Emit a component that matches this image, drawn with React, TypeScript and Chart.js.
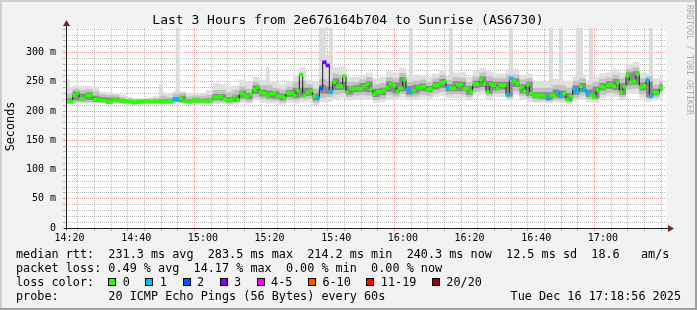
import React, { useEffect, useRef } from 'react';
import { Chart, registerables } from 'chart.js';

Chart.register(...registerables);

const W = 697;
const H = 310;
const START_MIN = 18 + 56 / 60; // 14:18:56, minutes after 14:00
const SPAN_MIN = 180;
const Y_MAX = 342;

// median rtt per minute (ms)
const medianRtt = [
  216.5, 216.5, 227, 231, 221, 221, 227, 227, 219.4, 219.4,
  218.3, 218.3, 215.4, 215.4, 219.4, 218, 218, 216.5, 216.5, 216.5,
  214.2, 216.5, 216.5, 217, 217, 216.5, 217, 217, 217, 216.5,
  216.5, 216.5, 219.4, 219.4, 222, 217, 217, 217, 220, 217.5,
  217.5, 217.5, 217.5, 217.7, 224, 224, 225, 220.6, 217.7, 219,
  224, 219, 231, 227.4, 225, 229, 236.6, 240.6, 232.6, 229.7,
  226.9, 229.7, 229.7, 225, 225, 222.3, 231, 231, 226.9, 235.4,
  262.3, 227, 232, 235, 225, 222.3, 238.3, 283.5, 278, 233.7,
  249.7, 242.3, 242.3, 259.4, 232, 238.3, 238.3, 238.3, 238.3, 242.3,
  246, 237.7, 229, 232.6, 232.6, 235, 240, 246, 243.4, 233.7,
  239, 253.7, 237.7, 232.6, 235, 240, 240, 242, 236.6, 237.7,
  244, 244, 248, 249.7, 240, 239, 239, 245, 245, 238,
  238, 232.6, 246, 246, 253.7, 246, 232.6, 246, 244, 239,
  244, 244, 228, 255.4, 250.9, 246.9, 240.6, 233.7, 245, 229.7,
  226.3, 226.3, 227, 225, 221, 227, 227, 232, 226, 229.7,
  219.4, 225, 238.3, 233.7, 242.3, 236.6, 231, 227, 224, 236.6,
  242.3, 240, 244, 245, 242.3, 249, 232, 242, 260.6, 249,
  250.9, 263.4, 240.6, 243, 252.6, 225, 232, 231, 240.3,
];

// lost pings (of 20) per minute
const lossPings = [
  0, 0, 0, 0, 0, 0, 0, 0, 0, 0,
  0, 0, 0, 0, 0, 0, 0, 0, 0, 0,
  0, 0, 0, 0, 0, 0, 0, 0, 0, 0,
  0, 0, 1, 1, 0, 0, 0, 0, 0, 0,
  0, 0, 0, 0, 0, 0, 0, 0, 0, 0,
  0, 0, 0, 0, 0, 0, 0, 0, 0, 0,
  0, 0, 0, 0, 0, 0, 0, 0, 0, 0,
  0, 0, 0, 0, 0, 1, 2, 3, 3, 1,
  0, 0, 0, 0, 0, 0, 0, 0, 0, 0,
  0, 0, 0, 0, 0, 0, 0, 0, 0, 0,
  0, 0, 1, 1, 0, 0, 0, 0, 0, 0,
  0, 0, 0, 0, 1, 0, 0, 0, 0, 0,
  0, 0, 0, 0, 0, 0, 0, 0, 0, 0,
  0, 0, 1, 1, 0, 0, 0, 0, 0, 0,
  0, 0, 0, 0, 1, 0, 0, 1, 1, 0,
  0, 0, 1, 1, 0, 1, 1, 0, 0, 0,
  0, 0, 0, 0, 0, 0, 0, 0, 0, 0,
  0, 0, 0, 0, 1, 1, 0, 0, 0,
];

// smoke bands per 2 minutes (ms)
const smokeOuterLo = [
  212, 213, 213, 213, 213, 213, 212, 213, 212, 212,
  211, 212, 212, 212, 212, 212, 213, 213, 212, 212,
  212, 212, 212, 212, 210, 211, 214, 213, 218, 215,
  213, 213, 211, 214, 213, 215, 216, 210, 215, 216,
  220, 222, 218, 220, 221, 219, 214, 216, 220, 219,
  222, 218, 219, 222, 220, 224, 226, 222, 222, 222,
  218, 226, 228, 220, 224, 224, 218, 228, 220, 216,
  214, 214, 213, 215, 214, 211, 217, 220, 215, 214,
  222, 225, 224, 218, 230, 230, 222, 216, 218, 224,
];
const smokeMidLo = [
  213, 215, 215, 215, 214, 214, 213, 214, 213, 213,
  212, 213, 213, 213, 213, 213, 215, 214, 213, 213,
  213, 213, 215, 215, 213, 214, 218, 216, 223, 220,
  218, 217, 215, 219, 218, 220, 221, 214, 222, 224,
  228, 230, 224, 226, 227, 226, 219, 221, 227, 225,
  229, 224, 225, 228, 226, 230, 233, 228, 229, 228,
  224, 232, 235, 226, 230, 230, 222, 234, 226, 222,
  218, 218, 217, 219, 218, 215, 222, 226, 220, 219,
  228, 231, 230, 224, 237, 238, 229, 221, 223, 230,
];
const smokeInnerLo = [
  215, 218, 218, 219, 216, 216, 214, 216, 215, 215,
  213, 215, 215, 215, 215, 215, 217, 216, 215, 215,
  215, 215, 219, 218, 215, 216, 222, 220, 229, 225,
  222, 221, 218, 224, 222, 224, 226, 218, 230, 229,
  236, 236, 228, 232, 233, 232, 224, 227, 233, 230,
  234, 228, 230, 234, 232, 237, 240, 234, 234, 234,
  228, 239, 241, 230, 235, 237, 225, 241, 230, 226,
  222, 221, 219, 223, 222, 217, 228, 232, 224, 222,
  235, 238, 236, 228, 244, 245, 235, 224, 227, 235,
];
const smokeInnerHi = [
  222, 234, 230, 232, 226, 224, 223, 223, 220, 219,
  218, 219, 219, 219, 220, 220, 224, 226, 220, 222,
  221, 222, 229, 229, 224, 228, 235, 231, 244, 237,
  235, 234, 230, 236, 240, 240, 240, 230, 245, 242,
  256, 250, 243, 244, 248, 251, 238, 240, 251, 249,
  258, 243, 245, 247, 243, 250, 255, 246, 251, 250,
  243, 252, 259, 252, 250, 250, 250, 256, 246, 250,
  232, 232, 232, 237, 235, 231, 244, 248, 237, 242,
  248, 251, 255, 248, 266, 268, 249, 250, 238, 246,
];
const smokeMidHi = [
  230, 238, 236, 237, 234, 229, 228, 227, 224, 222,
  220, 221, 221, 222, 226, 224, 230, 231, 225, 227,
  226, 228, 236, 236, 232, 236, 242, 238, 250, 244,
  244, 240, 237, 242, 250, 252, 246, 238, 255, 252,
  264, 262, 250, 250, 254, 258, 246, 248, 258, 256,
  265, 250, 252, 254, 250, 256, 262, 253, 258, 257,
  250, 259, 266, 260, 256, 256, 262, 262, 254, 256,
  240, 240, 240, 245, 244, 240, 252, 256, 245, 250,
  255, 257, 262, 256, 272, 275, 256, 260, 245, 252,
];
const smokeOuterHi = [
  240, 244, 243, 243, 242, 233, 232, 231, 228, 224,
  222, 222, 223, 226, 232, 231, 234, 234, 231, 231,
  230, 236, 248, 246, 242, 244, 254, 250, 258, 254,
  252, 250, 246, 250, 262, 275, 254, 250, 300, 296,
  275, 276, 258, 258, 262, 266, 256, 258, 268, 266,
  274, 258, 262, 262, 258, 264, 270, 260, 266, 266,
  258, 268, 274, 268, 264, 264, 272, 272, 262, 264,
  250, 250, 250, 255, 252, 252, 258, 262, 252, 258,
  264, 266, 272, 266, 280, 284, 266, 265, 256, 260,
];

// isolated high pings (minute index, bottom, top in ms)
const spikeMinute = [0, 28, 33, 60, 76, 77, 79, 103, 115, 133, 145, 148, 153, 154, 157, 175];
const spikeBottom = [225, 222, 226, 240, 250, 250, 245, 245, 248, 258, 240, 238, 245, 250, 240, 250];
const spikeTop = [254, 245, 345, 274, 345, 345, 345, 345, 345, 345, 345, 345, 345, 345, 345, 345];

const xGridMinutes = [20, 25, 30, 35, 40, 45, 50, 55, 60, 65, 70, 75, 80, 85, 90, 95, 100, 105, 110, 115, 120, 125, 130, 135, 140, 145, 150, 155, 160, 165, 170, 175, 180, 185, 190, 195];
const xLabelMinutes = [20, 40, 60, 80, 100, 120, 140, 160, 180];
const xLabelTexts = ['14:20', '14:40', '15:00', '15:20', '15:40', '16:00', '16:20', '16:40', '17:00'];
const yGridValues = [0, 10, 20, 30, 40, 50, 60, 70, 80, 90, 100, 110, 120, 130, 140, 150, 160, 170, 180, 190, 200, 210, 220, 230, 240, 250, 260, 270, 280, 290, 300, 310, 320, 330, 340];
const yLabelValues = [0, 50, 100, 150, 200, 250, 300];
const yLabelTexts = ['0', '50 m', '100 m', '150 m', '200 m', '250 m', '300 m'];

const lossLegendLabels = ['0', '1', '2', '3', '4-5', '6-10', '11-19', '20/20'];
const lossLegendColors = ['#26ff00', '#00b8ff', '#0059ff', '#7e00ff', '#ff00ff', '#ff5500', '#ff0000', '#a10000'];

const titleText = 'Last 3 Hours from 2e676164b704 to Sunrise (AS6730)';
const rttStats = ['231.3 ms avg', '283.5 ms max', '214.2 ms min', '240.3 ms now', '12.5 ms sd', '18.6   am/s'];
const lossStats = ['0.49 % avg', '14.17 % max', '0.00 % min', '0.00 % now'];
const probeText = '20 ICMP Echo Pings (56 Bytes) every 60s';
const dateText = 'Tue Dec 16 17:18:56 2025';

// layout constants
const MONO = "'DejaVu Sans Mono', monospace";
const LEGEND_FONT = `11.8px ${MONO}`;
const LOSS_FIRST_BOX_X = 108.3;
const BOX_TO_LABEL = 14.4;
const ITEM_GAP = 15.6;

function lossColorIndex(l: number): number {
  if (l <= 3) return l;
  if (l <= 5) return 4;
  if (l <= 10) return 5;
  if (l <= 19) return 6;
  return 7;
}

function stepPoints(vals: number[], step: number) {
  const pts = vals.map((v, i) => ({ x: START_MIN + i * step, y: v }));
  const end = Math.min(vals.length * step, medianRtt.length);
  pts.push({ x: START_MIN + end, y: vals[vals.length - 1] });
  return pts;
}

const GRID_MINOR = 'rgba(143,143,143,0.6)';
const GRID_MAJOR = 'rgba(222,79,79,0.55)';

const decorPlugin = {
  id: 'rrdDecor',
  beforeDraw(chart: any) {
    const { ctx, chartArea: a } = chart;
    ctx.save();
    ctx.fillStyle = '#f2f2f2';
    ctx.fillRect(0, 0, W, H);
    ctx.fillStyle = '#cfcfcf';
    ctx.fillRect(0, 0, W, 2);
    ctx.fillRect(0, 0, 2, H);
    ctx.fillStyle = '#9e9e9e';
    ctx.fillRect(0, H - 2, W, 2);
    ctx.fillRect(W - 2, 0, 2, H);
    ctx.fillStyle = '#ffffff';
    ctx.fillRect(a.left, a.top, a.right - a.left, a.bottom - a.top);
    ctx.restore();
  },
  afterDraw(chart: any) {
    const { ctx, chartArea: a } = chart;
    ctx.save();
    // axes
    ctx.strokeStyle = '#1f1f1f';
    ctx.lineWidth = 1;
    ctx.beginPath();
    ctx.moveTo(a.left + 0.5, a.bottom + 2);
    ctx.lineTo(a.left + 0.5, a.top - 4);
    ctx.moveTo(a.left - 2, a.bottom + 0.5);
    ctx.lineTo(a.right + 4, a.bottom + 0.5);
    ctx.stroke();
    // arrows
    ctx.fillStyle = '#801f1f';
    ctx.beginPath();
    ctx.moveTo(a.left - 3, a.top - 2);
    ctx.lineTo(a.left + 4, a.top - 2);
    ctx.lineTo(a.left + 0.5, a.top - 8);
    ctx.closePath();
    ctx.fill();
    ctx.beginPath();
    ctx.moveTo(a.right + 2, a.bottom - 3);
    ctx.lineTo(a.right + 2, a.bottom + 4);
    ctx.lineTo(a.right + 8, a.bottom + 0.5);
    ctx.closePath();
    ctx.fill();

    // title
    ctx.fillStyle = '#000';
    ctx.font = `13px ${MONO}`;
    ctx.textAlign = 'center';
    ctx.textBaseline = 'alphabetic';
    ctx.fillText(titleText, 348, 24);

    // Seconds
    ctx.save();
    ctx.translate(10.5, 126.5);
    ctx.rotate(-Math.PI / 2);
    ctx.font = LEGEND_FONT;
    ctx.textAlign = 'center';
    ctx.textBaseline = 'middle';
    ctx.fillText('Seconds', 0, 0);
    ctx.restore();

    // watermark
    ctx.save();
    ctx.translate(689, 5);
    ctx.rotate(Math.PI / 2);
    ctx.font = `8.3px ${MONO}`;
    ctx.fillStyle = 'rgba(0,0,0,0.3)';
    ctx.textAlign = 'left';
    ctx.textBaseline = 'middle';
    ctx.fillText('RRDTOOL / TOBI OETIKER', 0, 0);
    ctx.restore();

    // legend
    ctx.font = LEGEND_FONT;
    ctx.textAlign = 'left';
    ctx.textBaseline = 'alphabetic';
    ctx.fillStyle = '#000';
    ctx.fillText('median rtt:  ' + rttStats.join('  '), 16, 258);
    ctx.fillText('packet loss: ' + lossStats.join('  '), 16, 272);
    ctx.fillText('loss color:', 16, 286);
    let bx = LOSS_FIRST_BOX_X;
    lossLegendLabels.forEach((t, i) => {
      ctx.fillStyle = lossLegendColors[i];
      ctx.fillRect(Math.round(bx), 278, 8, 8);
      ctx.strokeStyle = '#000';
      ctx.lineWidth = 1;
      ctx.strokeRect(Math.round(bx) + 0.5, 278.5, 7, 7);
      ctx.fillStyle = '#000';
      const lx = bx + BOX_TO_LABEL;
      ctx.fillText(t, lx, 286);
      bx = lx + ctx.measureText(t).width + ITEM_GAP;
    });
    ctx.fillText('probe:       ' + probeText, 16, 300);
    ctx.textAlign = 'right';
    ctx.fillText(dateText, 681, 300);
    ctx.restore();
  },
};

export default function App() {
  const ref = useRef<HTMLCanvasElement | null>(null);

  useEffect(() => {
    if (!ref.current) return;
    const band = (lo: number[], hi: number[], color: string, order: number) => [
      {
        type: 'line',
        data: stepPoints(lo, 2),
        stepped: true,
        borderColor: 'rgba(0,0,0,0)',
        borderWidth: 0,
        pointRadius: 0,
        fill: false,
        order,
      },
      {
        type: 'line',
        data: stepPoints(hi, 2),
        stepped: true,
        borderColor: 'rgba(0,0,0,0)',
        borderWidth: 0,
        pointRadius: 0,
        fill: '-1',
        backgroundColor: color,
        order,
      },
    ];

    const datasets: any[] = [
      ...band(smokeOuterLo, smokeOuterHi, '#e0e0e0', 30),
      {
        type: 'bar',
        data: spikeMinute.map((m, i) => ({ x: START_MIN + m + 0.5, y: [spikeBottom[i], spikeTop[i]] })),
        backgroundColor: '#dcdcdc',
        borderWidth: 0,
        grouped: false,
        barPercentage: 1,
        categoryPercentage: 1,
        order: 25,
      },
      ...band(smokeMidLo, smokeMidHi, '#c2c2c2', 20),
      ...band(smokeInnerLo, smokeInnerHi, '#8a8a8a', 10),
      {
        type: 'line',
        data: stepPoints(medianRtt, 1),
        stepped: true,
        borderColor: '#202020',
        borderWidth: 1,
        pointRadius: 0,
        fill: false,
        order: 2,
      },
      {
        type: 'bar',
        data: medianRtt.map((v, i) => ({ x: START_MIN + i + 0.5, y: [v - 2.6, v + 2.6] })),
        backgroundColor: lossPings.map((l) => lossLegendColors[lossColorIndex(l)]),
        borderWidth: 0,
        grouped: false,
        barPercentage: 1,
        categoryPercentage: 1,
        order: 1,
      },
    ];

    const gridColorX = (c: any) => (c.tick && xLabelMinutes.includes(c.tick.value) ? GRID_MAJOR : GRID_MINOR);
    const gridColorY = (c: any) => (c.tick && yLabelValues.includes(c.tick.value) ? GRID_MAJOR : GRID_MINOR);

    const chart = new Chart(ref.current, {
      type: 'line',
      data: { datasets },
      plugins: [decorPlugin],
      options: {
        responsive: false,
        animation: false,
        devicePixelRatio: 1,
        events: [],
        layout: { padding: { left: 0, right: W - 666, top: 28, bottom: 0 } },
        plugins: {
          legend: { display: false },
          tooltip: { enabled: false },
          title: { display: false },
        },
        scales: {
          x: {
            type: 'linear',
            min: START_MIN,
            max: START_MIN + SPAN_MIN,
            offset: false,
            z: 1,
            afterBuildTicks: (s: any) => {
              s.ticks = xGridMinutes.map((v) => ({ value: v }));
            },
            afterFit: (s: any) => {
              s.height = H - 228;
            },
            grid: {
              color: gridColorX,
              tickColor: gridColorX,
              lineWidth: 1,
              drawTicks: true,
              tickLength: 3,
            },
            border: { display: false, dash: [1, 1] },
            ticks: {
              autoSkip: false,
              maxRotation: 0,
              minRotation: 0,
              padding: 1,
              color: '#000',
              font: { family: 'DejaVu Sans Mono', size: 10 },
              callback: (v: any) => {
                const idx = xLabelMinutes.indexOf(Number(v));
                return idx >= 0 ? xLabelTexts[idx] : '';
              },
            },
          },
          y: {
            type: 'linear',
            min: 0,
            max: Y_MAX,
            z: 1,
            afterBuildTicks: (s: any) => {
              s.ticks = yGridValues.map((v) => ({ value: v }));
            },
            afterFit: (s: any) => {
              s.width = 66;
            },
            grid: {
              color: gridColorY,
              tickColor: gridColorY,
              lineWidth: 1,
              drawTicks: true,
              tickLength: 3,
            },
            border: { display: false, dash: [1, 1] },
            ticks: {
              autoSkip: false,
              padding: 7,
              color: '#000',
              font: { family: 'DejaVu Sans Mono', size: 10 },
              callback: (v: any) => {
                const idx = yLabelValues.indexOf(Number(v));
                return idx >= 0 ? yLabelTexts[idx] : '';
              },
            },
          },
        },
      } as any,
    });
    return () => chart.destroy();
  }, []);

  return (
    <div style={{ position: 'absolute', left: 0, top: 0, width: W, height: H }}>
      <canvas ref={ref} width={W} height={H} style={{ display: 'block', width: W, height: H }} />
    </div>
  );
}
